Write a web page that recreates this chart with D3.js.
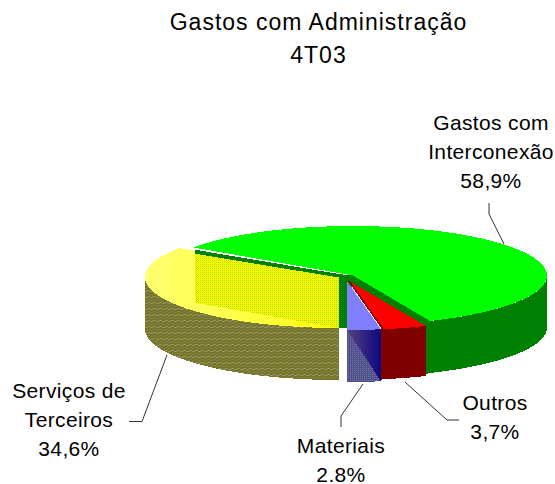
<!DOCTYPE html>
<html><head><meta charset="utf-8">
<script src="https://cdn.jsdelivr.net/npm/d3@7"></script>
<style>html,body{margin:0;background:#fff}svg{display:block}text{font-family:"Liberation Sans",Arial,sans-serif;fill:#000}</style>
</head><body><div id="c"></div>
<script>
const titleLines = ["Gastos com Administração","4T03"];
const categories = ["Serviços de Terceiros","Gastos com Interconexão","Outros","Materiais"];
const values = [34.6,58.9,3.7,2.8];
const labelLines = [["Serviços de","Terceiros","34,6%"],["Gastos com","Interconexão","58,9%"],["Outros","3,7%"],["Materiais","2.8%"]];
const topColors = ["url(#yellowG)","#00ff00","#ff0000","#8080ff"];
const wallColors = ["#808000","#008000","#800000","#000080"];

// layout
const W=555,H=484;
const centers=[[339,277],[353,275.5],[349,281],[347,281]];
const rx=194, ryList=[51,49.5,49,49], depth=52;
const labelPos=[[69,398],[491,130],[495,410],[341,453]];
const leaders=[[[129,421.5],[142,421.5],[167,355]],[[489,203],[489,214],[504,244]],[[459,420],[447,420],[405,382]],[[341,427],[341,416],[363,384]]];

const svg=d3.select("#c").append("svg").attr("width",W).attr("height",H);
const defs=svg.append("defs");
function pat(id,size,bg,fn){const p=defs.append("pattern").attr("id",id).attr("width",size).attr("height",size).attr("patternUnits","userSpaceOnUse");
 p.append("rect").attr("width",size).attr("height",size).attr("fill",bg);fn(p);}
pat("hatchY",2,"#ffff00",p=>{p.append("rect").attr("width",1).attr("height",1).attr("fill","#a8d810");p.append("rect").attr("x",1).attr("y",1).attr("width",1).attr("height",1).attr("fill","#e8f000");});
pat("oliveH",6,"#737326",p=>{p.append("path").attr("d","M0 4L6 2").attr("stroke","#9c9c72").attr("stroke-width",1);p.append("path").attr("d","M0 1L6 -1M0 7L6 5").attr("stroke","#8a8a55").attr("stroke-width",.8);});
pat("blueH",2,"#50508c",p=>{p.append("rect").attr("width",1).attr("height",1).attr("fill","#6f6f9f");});
const navy=defs.append("linearGradient").attr("id","navyG").attr("x1",0).attr("x2",1).attr("y1",0).attr("y2",0);
navy.append("stop").attr("offset",0).attr("stop-color","#5a3f80");navy.append("stop").attr("offset",1).attr("stop-color","#0a0a80");
const yel=defs.append("linearGradient").attr("id","yellowG").attr("x1",0).attr("x2",1).attr("y1",0).attr("y2",0);
yel.append("stop").attr("offset",0).attr("stop-color","#ffff70");yel.append("stop").attr("offset",.5).attr("stop-color","#ffff48");yel.append("stop").attr("offset",1).attr("stop-color","#ffff00");

const pie=d3.pie().sort(null).value(d=>d).startAngle(0).endAngle(2*Math.PI);
const slices=pie(values);
const line=d3.line();
const pt=(i,t,dy=0)=>[centers[i][0]-rx*Math.sin(t),centers[i][1]+ryList[i]*Math.cos(t)+dy];
const arcPts=(i,a,b,dy=0)=>d3.range(0,1.0001,1/48).map(k=>pt(i,a+(b-a)*k,dy));
const g=svg.append("g").attr("shape-rendering","crispEdges");
const poly=(pts,fill)=>g.append("path").attr("d",line(pts)+"Z").attr("fill",fill);

// yellow
const yS=slices[0];
const yWallEnd=Math.PI/2;
poly([...arcPts(0,0,yWallEnd),...arcPts(0,yWallEnd,0,depth)],"url(#oliveH)");
poly([centers[0],...arcPts(0,yS.startAngle,yS.endAngle)],topColors[0]);
// green side faces under the top
const gS=slices[1], gStart=pt(1,gS.startAngle), gEnd=pt(1,gS.endAngle), gA=centers[1];
const along=x=>gStart[1]+(gA[1]-gStart[1])*(x-gStart[0])/(gA[0]-gStart[0]);
const xL=195,xR=centers[0][0];
poly([[xL,along(xL)+6],[xR,along(xR)+4.5],[xR,centers[0][1]+ryList[0]],[xL,along(xL)+6+depth-3]],"url(#hatchY)");
poly([[xL,along(xL)+2],[xR,along(xR)+1],[xR,along(xR)+4.5],[xL,along(xL)+6]],wallColors[1]);
poly([[xR,along(xR)+1],[gA[0],gA[1]],[gA[0]-6,centers[0][1]+ryList[0]],[xR,centers[0][1]+ryList[0]]],wallColors[1]);
// green outer wall, reaching back to the red wall
const gWallStart=1.5*Math.PI;
poly([...arcPts(1,gWallStart,gS.endAngle),[gEnd[0]-6,gEnd[1]+4],[gEnd[0]-6,gEnd[1]+depth+2],...arcPts(1,gS.endAngle,gWallStart,depth)],wallColors[1]);
// strip below the green near edge
poly([gA,gEnd,[gEnd[0]-3,gEnd[1]+6],[centers[2][0]-1,centers[2][1]]],wallColors[1]);
// green top
poly([gA,...arcPts(1,gS.startAngle,gS.endAngle)],topColors[1]);
// red
const rS=slices[2];
const rE=pt(2,rS.endAngle);
poly([...arcPts(2,rS.startAngle,rS.endAngle),[rE[0]-2.5,rE[1]],[rE[0]-2.5,rE[1]+depth-1],...arcPts(2,rS.endAngle,rS.startAngle,depth-2)],wallColors[2]);
poly([centers[2],...arcPts(2,rS.startAngle,rS.endAngle)],topColors[2]);
// blue
const bS=slices[3];
poly([...arcPts(3,bS.startAngle,bS.endAngle),...arcPts(3,bS.endAngle,bS.startAngle,depth)],"url(#blueH)");
poly([pt(3,bS.startAngle),pt(3,bS.endAngle),pt(3,bS.startAngle,depth)],"url(#navyG)");
poly([centers[3],...arcPts(3,bS.startAngle,bS.endAngle)],topColors[3]);
g.append("path").attr("d",line([centers[2],pt(2,rS.endAngle)])).attr("stroke",wallColors[2]).attr("stroke-width",1.5).attr("fill","none");

// leaders
svg.append("g").selectAll("path").data(leaders).join("path").attr("d",d=>line(d)).attr("fill","none").attr("stroke","#333").attr("stroke-width",1);

// text
svg.append("g").selectAll("text").data(titleLines).join("text").attr("x",318.5).attr("y",(d,i)=>30+i*32.5).attr("text-anchor","middle").attr("font-size",23).attr("letter-spacing",1).text(d=>d);
labelLines.forEach((ls,i)=>{svg.append("g").selectAll("text").data(ls).join("text").attr("x",labelPos[i][0]).attr("y",(d,k)=>labelPos[i][1]+k*29.2).attr("text-anchor","middle").attr("font-size",21).attr("letter-spacing",0.35).text(d=>d);});
</script></body></html>
